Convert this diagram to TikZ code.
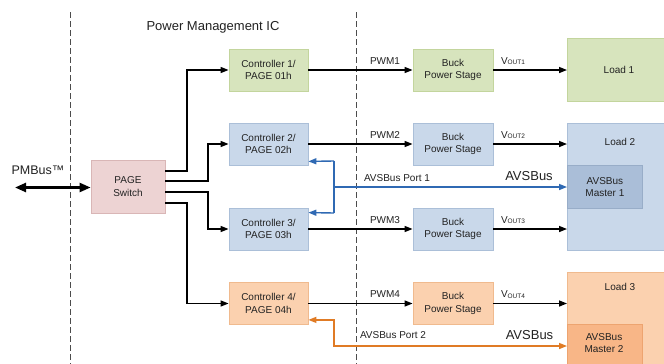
\documentclass[tikz,border=0pt]{standalone}
\usepackage{fontspec}
\setmainfont{Liberation Sans}
\usetikzlibrary{arrows.meta,calc}
\definecolor{txt}{HTML}{222222}
\definecolor{gfill}{HTML}{D7E4BD}\definecolor{gdraw}{HTML}{C3D59D}
\definecolor{bfill}{HTML}{C9D8EA}\definecolor{bdraw}{HTML}{ABBFD8}
\definecolor{pfill}{HTML}{EDD3D3}\definecolor{pdraw}{HTML}{D9B6B6}
\definecolor{ofill}{HTML}{FBD1AF}\definecolor{odraw}{HTML}{F0BA8E}
\definecolor{m1fill}{HTML}{AABED8}\definecolor{m1draw}{HTML}{98ADC8}
\definecolor{m2fill}{HTML}{F8B687}\definecolor{m2draw}{HTML}{EDA470}
\definecolor{avsblue}{HTML}{2F69B3}
\definecolor{avsorange}{HTML}{E07B25}
\newcommand{\vout}[1]{V\raisebox{-0.8pt}{\fontsize{6.5}{7}\selectfont OUT#1}}
\tikzset{
  blk/.style={draw, line width=0.8pt, minimum width=79pt, minimum height=42pt,
    align=center, font=\fontsize{10}{12.5}\selectfont, text=txt, inner sep=0pt},
  plain/.style={draw, line width=0.8pt, inner sep=0pt},
  lbl/.style={font=\fontsize{10}{12}\selectfont, text=txt, inner sep=0pt},
  big/.style={font=\fontsize{13}{15}\selectfont, text=txt, inner sep=0pt},
  arr/.style={line width=1.4pt, -{Triangle[length=8pt,width=6pt]}},
  barr/.style={line width=1.4pt, avsblue, -{Triangle[length=8pt,width=6pt]}},
  oarr/.style={line width=1.4pt, avsorange, {Triangle[length=8pt,width=6pt]}-{Triangle[length=8pt,width=6pt]}},
  dbl/.style={line width=2.4pt, {Triangle[length=11pt,width=9pt]}-{Triangle[length=11pt,width=9pt]}},
  sep/.style={line width=0.9pt, draw=black!70, dash pattern=on 6pt off 3pt}
}
\begin{document}
\begin{tikzpicture}[x=1pt,y=-1pt]
\useasboundingbox (0,0) rectangle (664,364);
\clip (0,0) rectangle (664,364);
\fill[white] (0,0) rectangle (664,364);
% separators
\draw[sep] (70,12) -- (70,364);
\draw[sep] (356,12) -- (356,364);
\node[big] (title) at (213,27) {Power Management IC};
% loads
\node[plain, fill=gfill, draw=gdraw, minimum width=100pt, minimum height=63pt, anchor=north west] (l1) at (567,38) {};
\node[lbl] (l1t) at (619,70) {Load 1};
\node[plain, fill=bfill, draw=bdraw, minimum width=100pt, minimum height=127pt, anchor=north west] (l2) at (567,123) {};
\node[lbl] (l2t) at (620,142) {Load 2};
\node[plain, fill=m1fill, draw=m1draw, minimum width=75pt, minimum height=43pt, anchor=north west, align=center, font=\fontsize{10}{12.5}\selectfont, text=txt] (m1) at (567,165) {AVSBus\\Master 1};
\node[plain, fill=ofill, draw=odraw, minimum width=100pt, minimum height=100pt, anchor=north west] (l3) at (567,272) {};
\node[lbl] (l3t) at (620,287) {Load 3};
\node[plain, fill=m2fill, draw=m2draw, minimum width=75pt, minimum height=46pt, anchor=north west] (m2) at (567,324) {};
\node[lbl, align=center, font=\fontsize{10}{12.5}\selectfont] (m2t) at (604,343) {AVSBus\\Master 2};
% page switch
\node[blk, fill=pfill, draw=pdraw, minimum width=74pt, minimum height=53pt] (sw) at (128,186.5) {PAGE\\Switch};
% controllers
\node[blk, fill=gfill, draw=gdraw] (c1) at (268.5,70) {Controller 1/\\PAGE 01h};
\node[blk, fill=bfill, draw=bdraw] (c2) at (268.5,144) {Controller 2/\\PAGE 02h};
\node[blk, fill=bfill, draw=bdraw] (c3) at (268.5,229) {Controller 3/\\PAGE 03h};
\node[blk, fill=ofill, draw=odraw] (c4) at (268.5,303.5) {Controller 4/\\PAGE 04h};
% buck stages
\node[blk, fill=gfill, draw=gdraw, minimum width=80pt] (b1) at (453,70) {Buck\\Power Stage};
\node[blk, fill=bfill, draw=bdraw, minimum width=80pt] (b2) at (453,144) {Buck\\Power Stage};
\node[blk, fill=bfill, draw=bdraw, minimum width=80pt] (b3) at (453,229) {Buck\\Power Stage};
\node[blk, fill=ofill, draw=odraw, minimum width=80pt] (b4) at (453,303.5) {Buck\\Power Stage};
% PMBus
\node[font=\fontsize{12.5}{14}\selectfont, text=txt, inner sep=0pt] (pmb) at (38,170) {PMBus™};
\coordinate (pm) at (15,187.5);
\draw[dbl] (pm) -- (pm -| sw.west);
% switch to controllers
\draw[arr] ([yshift=15.5pt]sw.east) -| (187,70) -- (c1.west);
\draw[arr] ([yshift=5.5pt]sw.east) -| (208,144) -- (c2.west);
\draw[arr] ([yshift=-5.5pt]sw.east) -| (208,229) -- (c3.west);
\draw[arr] ([yshift=-16.5pt]sw.east) -| (187,303.5) -- (c4.west);
% controller to buck, buck to load
\foreach \i/\l in {1/l1,2/l2,3/l2,4/l3}{
  \draw[arr] (c\i.east) -- (b\i.west);
  \draw[arr] (b\i.east) -- (b\i.east -| \l.west);
}
\node[lbl] (pw1) at (385,61) {PWM1};
\node[lbl] (pw2) at (385,135) {PWM2};
\node[lbl] (pw3) at (385,220) {PWM3};
\node[lbl] (pw4) at (385,294.5) {PWM4};
\node[lbl] (v1) at (513,61) {\vout{1}};
\node[lbl] (v2) at (513,135) {\vout{2}};
\node[lbl] (v3) at (513,220) {\vout{3}};
\node[lbl] (v4) at (513,294.5) {\vout{4}};
% AVSBus port 1
\coordinate (bj) at (334,187);
\draw[line width=1.4pt, avsblue] (334,161) -- (334,213);
\draw[barr] (334,161) -- ([yshift=4pt]c2.south east);
\draw[barr] (334,213) -- ([yshift=-5pt]c3.north east);
\draw[barr] (bj) -- (bj -| m1.west);
\node[lbl] (ap1) at (397,178) {AVSBus Port 1};
\node[big] (av1) at (529,176) {AVSBus};
% AVSBus port 2
\coordinate (oj) at (334,346);
\draw[oarr] ([yshift=5pt]c4.south east) -| (oj) -- (oj -| m2.west);
\node[lbl] (ap2) at (393,335) {AVSBus Port 2};
\node[big] (av2) at (529.5,335) {AVSBus};
\end{tikzpicture}
\end{document}
